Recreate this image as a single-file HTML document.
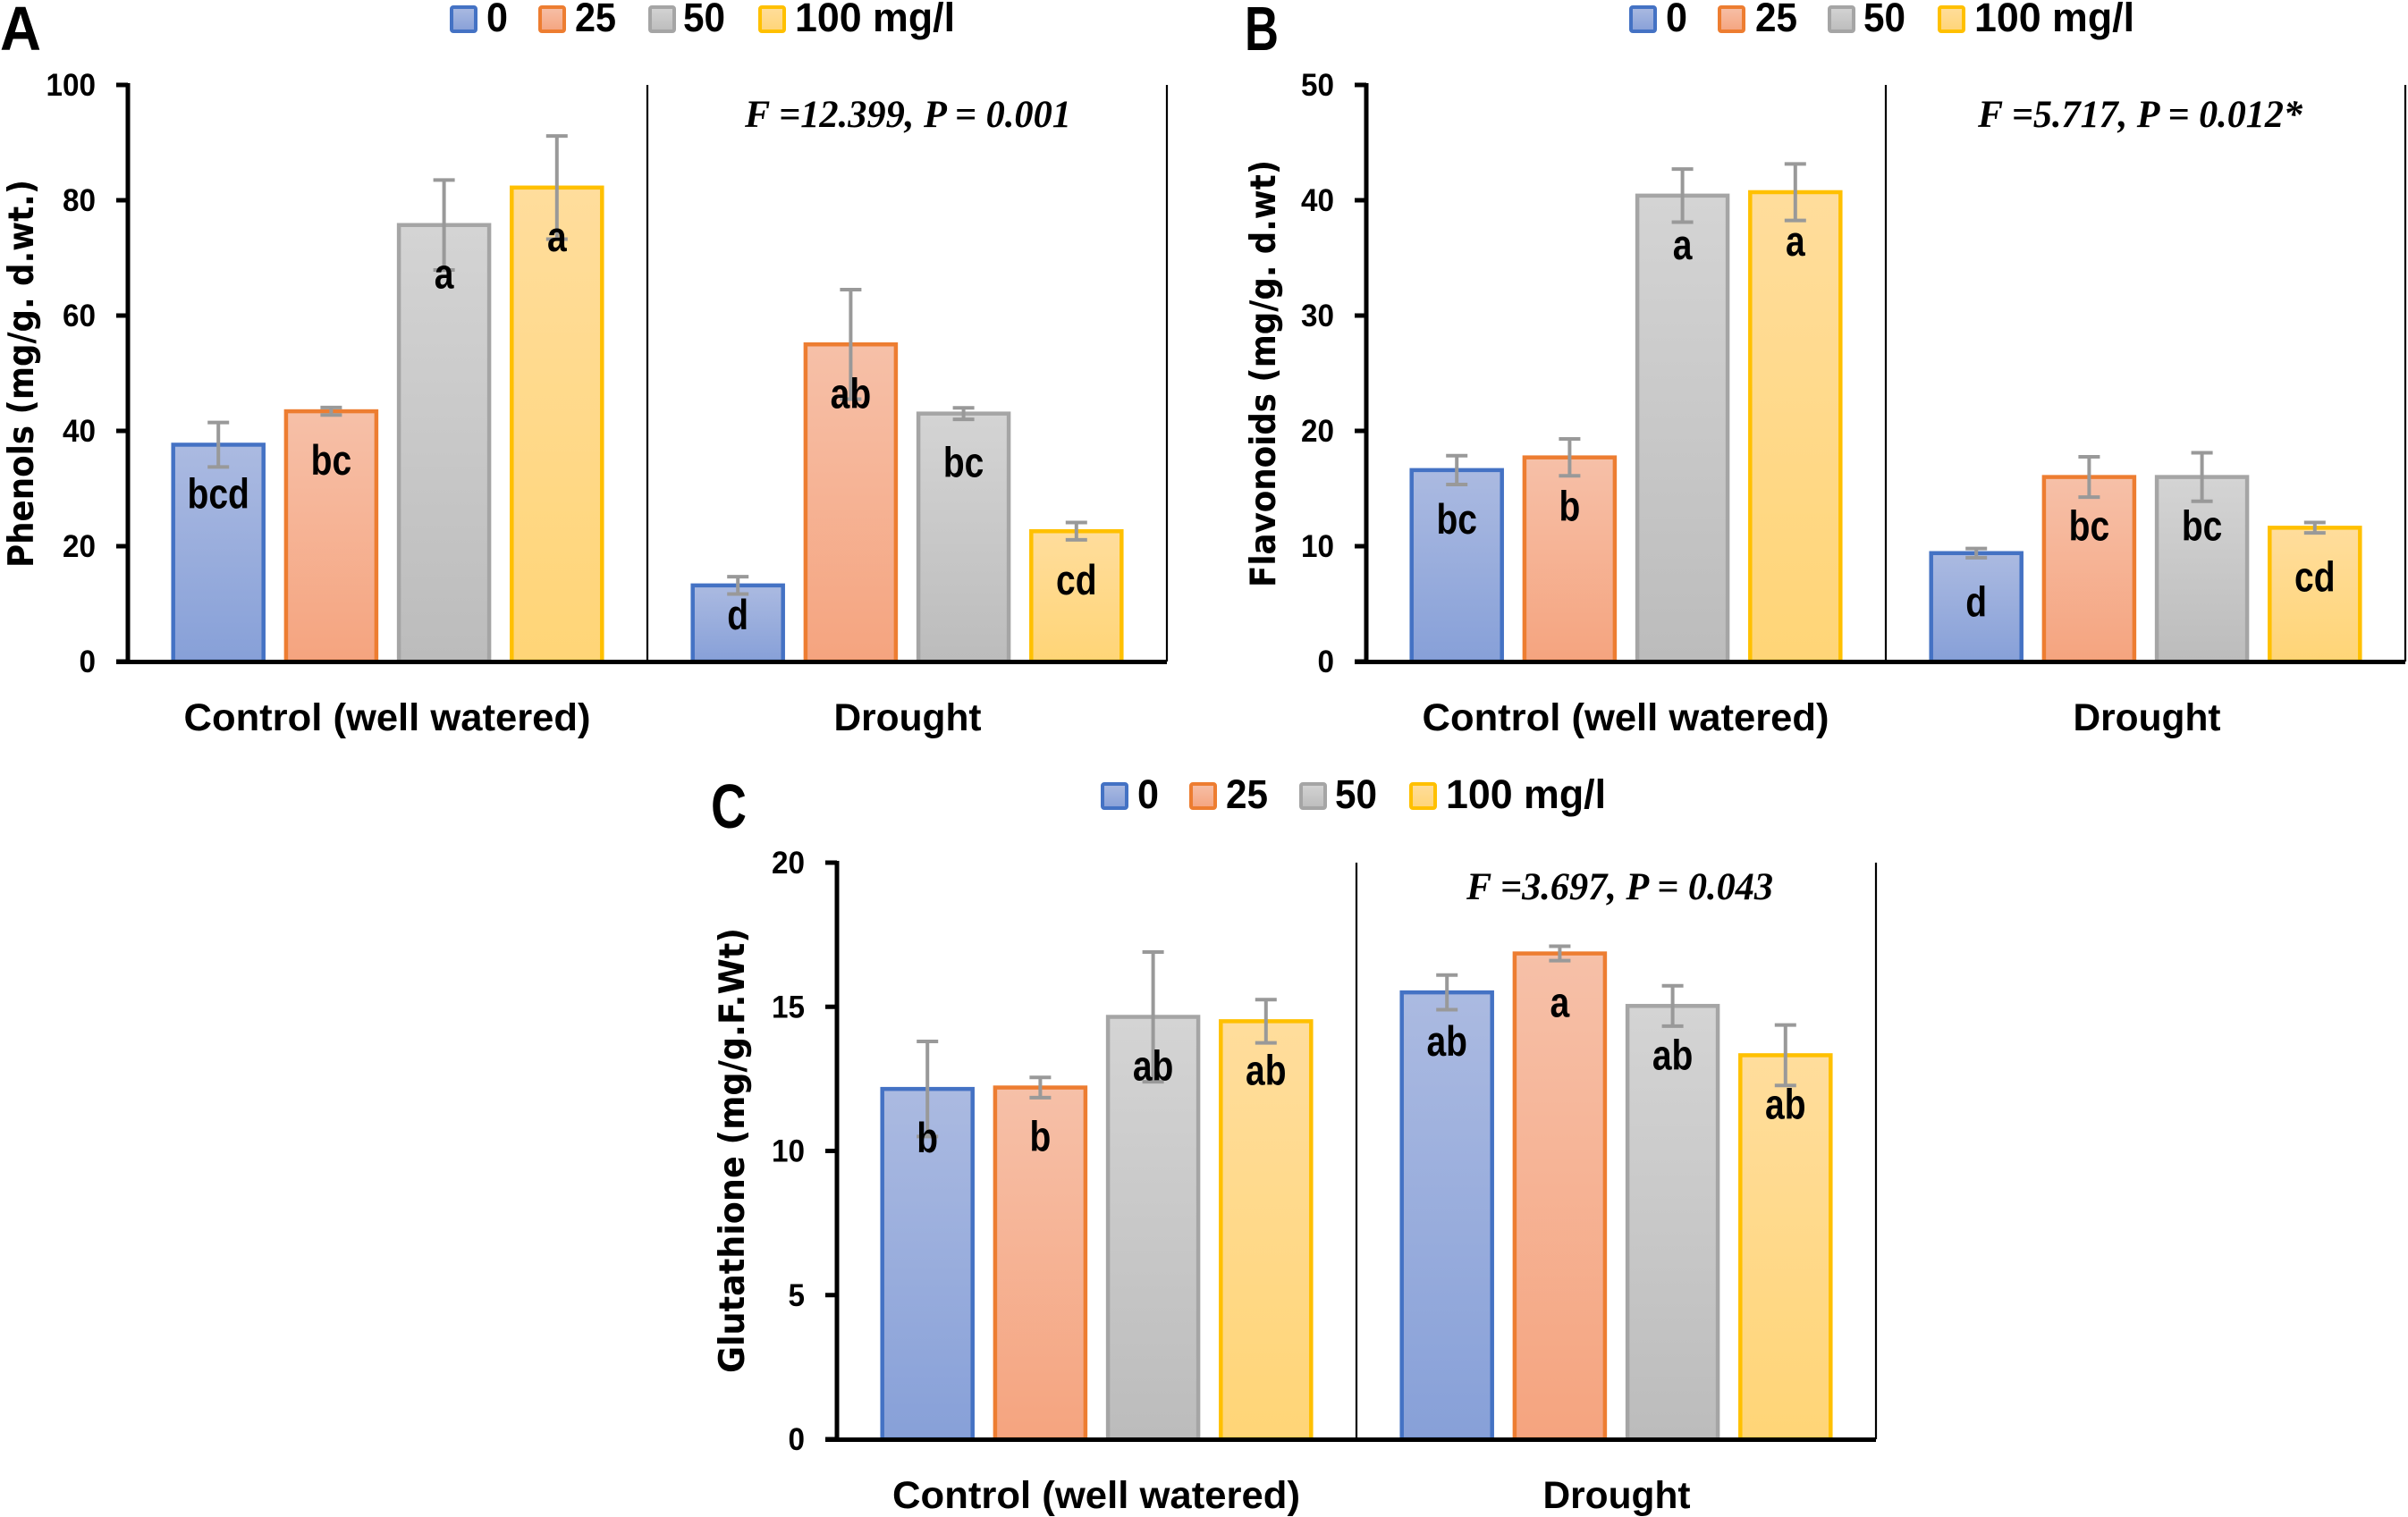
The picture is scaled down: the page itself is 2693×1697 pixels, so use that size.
<!DOCTYPE html>
<html lang="en">
<head>
<meta charset="utf-8">
<title>Phenols, flavonoids and glutathione bar charts</title>
<style>
html,body{margin:0;padding:0;background:#fff;}
svg{display:block;}
text{font-family:"Liberation Sans",sans-serif;font-weight:700;fill:#000;}
.ytitle{font-family:"DejaVu Sans",sans-serif;font-size:39px;}
.stat{font-family:"Liberation Serif",serif;font-style:italic;font-size:43px;}
.cat{font-size:43px;text-anchor:middle;}
.leg{font-size:45px;}
.letter{font-size:70px;}
</style>
</head>
<body>
<svg id="figure" xmlns="http://www.w3.org/2000/svg" width="2693" height="1697" viewBox="0 0 2693 1697">
<defs>
<linearGradient id="grad0" x1="0" y1="0" x2="0" y2="1"><stop offset="0" stop-color="#abbae1"/><stop offset="1" stop-color="#87a0d8"/></linearGradient>
<linearGradient id="grad1" x1="0" y1="0" x2="0" y2="1"><stop offset="0" stop-color="#f6c0a8"/><stop offset="1" stop-color="#f5a47f"/></linearGradient>
<linearGradient id="grad2" x1="0" y1="0" x2="0" y2="1"><stop offset="0" stop-color="#d4d4d4"/><stop offset="1" stop-color="#bcbcbc"/></linearGradient>
<linearGradient id="grad3" x1="0" y1="0" x2="0" y2="1"><stop offset="0" stop-color="#ffdd9c"/><stop offset="1" stop-color="#ffd577"/></linearGradient>
</defs>

<g id="panel-a">
  <text class="letter" x="0" y="56" textLength="46" lengthAdjust="spacingAndGlyphs">A</text>
  <g transform="translate(503,6)">
    <rect x="2" y="2" width="27" height="27" rx="2" fill="url(#grad0)" stroke="#4472c4" stroke-width="4"/>
    <text class="leg" x="41" y="29" textLength="24" lengthAdjust="spacingAndGlyphs">0</text>
    <rect x="101" y="2" width="27" height="27" rx="2" fill="url(#grad1)" stroke="#ed7d31" stroke-width="4"/>
    <text class="leg" x="140" y="29" textLength="46" lengthAdjust="spacingAndGlyphs">25</text>
    <rect x="224" y="2" width="27" height="27" rx="2" fill="url(#grad2)" stroke="#a5a5a5" stroke-width="4"/>
    <text class="leg" x="261" y="29" textLength="47" lengthAdjust="spacingAndGlyphs">50</text>
    <rect x="347" y="2" width="27" height="27" rx="2" fill="url(#grad3)" stroke="#ffc000" stroke-width="4"/>
    <text class="leg" x="386" y="29" textLength="179" lengthAdjust="spacingAndGlyphs">100 mg/l</text>
  </g>
  <text class="ytitle" transform="translate(37,635) rotate(-90)" textLength="434" lengthAdjust="spacingAndGlyphs">Phenols (mg/g. d.wt.)</text>
  <text class="stat" x="833" y="142" textLength="365" lengthAdjust="spacingAndGlyphs">F =12.399, P = 0.001</text>
  <text class="cat" x="433" y="817" textLength="455" lengthAdjust="spacingAndGlyphs">Control (well watered)</text>
  <text class="cat" x="1015" y="817" textLength="165" lengthAdjust="spacingAndGlyphs">Drought</text>
</g>

<g id="panel-b">
  <text class="letter" x="1392" y="56" textLength="38" lengthAdjust="spacingAndGlyphs">B</text>
  <g transform="translate(1822,6)">
    <rect x="2" y="2" width="27" height="27" rx="2" fill="url(#grad0)" stroke="#4472c4" stroke-width="4"/>
    <text class="leg" x="41" y="29" textLength="24" lengthAdjust="spacingAndGlyphs">0</text>
    <rect x="101" y="2" width="27" height="27" rx="2" fill="url(#grad1)" stroke="#ed7d31" stroke-width="4"/>
    <text class="leg" x="141" y="29" textLength="47" lengthAdjust="spacingAndGlyphs">25</text>
    <rect x="224" y="2" width="27" height="27" rx="2" fill="url(#grad2)" stroke="#a5a5a5" stroke-width="4"/>
    <text class="leg" x="262" y="29" textLength="47" lengthAdjust="spacingAndGlyphs">50</text>
    <rect x="347" y="2" width="27" height="27" rx="2" fill="url(#grad3)" stroke="#ffc000" stroke-width="4"/>
    <text class="leg" x="386" y="29" textLength="179" lengthAdjust="spacingAndGlyphs">100 mg/l</text>
  </g>
  <text class="ytitle" transform="translate(1426,657) rotate(-90)" textLength="478" lengthAdjust="spacingAndGlyphs">Flavonoids (mg/g. d.wt)</text>
  <text class="stat" x="2212" y="142" textLength="363" lengthAdjust="spacingAndGlyphs">F =5.717, P = 0.012*</text>
  <text class="cat" x="1818" y="817" textLength="455" lengthAdjust="spacingAndGlyphs">Control (well watered)</text>
  <text class="cat" x="2401" y="817" textLength="165" lengthAdjust="spacingAndGlyphs">Drought</text>
</g>

<g id="panel-c">
  <text class="letter" x="795" y="926" textLength="40" lengthAdjust="spacingAndGlyphs">C</text>
  <g transform="translate(1231,875)">
    <rect x="2" y="2" width="27" height="27" rx="2" fill="url(#grad0)" stroke="#4472c4" stroke-width="4"/>
    <text class="leg" x="41" y="29" textLength="24" lengthAdjust="spacingAndGlyphs">0</text>
    <rect x="101" y="2" width="27" height="27" rx="2" fill="url(#grad1)" stroke="#ed7d31" stroke-width="4"/>
    <text class="leg" x="140" y="29" textLength="47" lengthAdjust="spacingAndGlyphs">25</text>
    <rect x="224" y="2" width="27" height="27" rx="2" fill="url(#grad2)" stroke="#a5a5a5" stroke-width="4"/>
    <text class="leg" x="262" y="29" textLength="47" lengthAdjust="spacingAndGlyphs">50</text>
    <rect x="347" y="2" width="27" height="27" rx="2" fill="url(#grad3)" stroke="#ffc000" stroke-width="4"/>
    <text class="leg" x="386" y="29" textLength="179" lengthAdjust="spacingAndGlyphs">100 mg/l</text>
  </g>
  <text class="ytitle" transform="translate(832,1536) rotate(-90)" textLength="498" lengthAdjust="spacingAndGlyphs">Glutathione (mg/g.F.Wt)</text>
  <text class="stat" x="1640" y="1006" textLength="343" lengthAdjust="spacingAndGlyphs">F =3.697, P = 0.043</text>
  <text class="cat" x="1226" y="1687" textLength="456" lengthAdjust="spacingAndGlyphs">Control (well watered)</text>
  <text class="cat" x="1808" y="1687" textLength="165" lengthAdjust="spacingAndGlyphs">Drought</text>
</g>
</svg>

<script>
// Panel A: phenols
const phenolValues = [37.6, 43.4, 75.7, 82.2, 13.2, 55, 43, 22.6];
const phenolErrors = [3.85, 0.65, 7.8, 8.95, 1.5, 9.5, 1, 1.5];
const phenolLetters = ['bcd', 'bc', 'a', 'a', 'd', 'ab', 'bc', 'cd'];
const phenolTicks = [0, 20, 40, 60, 80, 100];
// Panel B: flavonoids
const flavonoidValues = [16.6, 17.7, 40.4, 40.7, 9.4, 16, 16, 11.6];
const flavonoidErrors = [1.25, 1.6, 2.3, 2.45, 0.4, 1.75, 2.1, 0.45];
const flavonoidLetters = ['bc', 'b', 'a', 'a', 'd', 'bc', 'bc', 'cd'];
const flavonoidTicks = [0, 10, 20, 30, 40, 50];
// Panel C: glutathione
const glutathioneValues = [12.15, 12.2, 14.65, 14.5, 15.5, 16.85, 15.03, 13.32];
const glutathioneErrors = [1.65, 0.35, 2.25, 0.75, 0.6, 0.25, 0.7, 1.05];
const glutathioneLetters = ['b', 'b', 'ab', 'ab', 'ab', 'a', 'ab', 'ab'];
const glutathioneTicks = [0, 5, 10, 15, 20];
// Bar series order inside each group
const seriesStrokes = ['#4472c4', '#ed7d31', '#a5a5a5', '#ffc000'];

const NS = 'http://www.w3.org/2000/svg';

function add(parent, tag, attrs, text) {
  const el = document.createElementNS(NS, tag);
  for (const k in attrs) el.setAttribute(k, attrs[k]);
  if (text !== undefined) el.textContent = text;
  parent.appendChild(el);
  return el;
}

function squeeze(t, factor) {
  t.setAttribute('textLength', (t.getComputedTextLength() * factor).toFixed(1));
  t.setAttribute('lengthAdjust', 'spacingAndGlyphs');
}

function drawPanel(id, x0, top, bottom, values, errors, letters, ticks) {
  const root = document.getElementById(id);
  const g = add(root, 'g', {});
  
  
  const yMax = ticks[ticks.length - 1];
  const y = v => bottom - (v / yMax) * (bottom - top);
  const catW = 581;
  const pitch = 126.2;
  const barX = i => {
    const group = Math.floor(i / 4);
    const slot = i % 4;
    return x0 + catW * group + catW / 2 + (slot - 1.5) * pitch;
  };

  values.forEach((v, i) => {
    const s = i % 4;
    const bar = add(g, 'rect', {
      x: barX(i) - 50.5, y: y(v), width: 101, height: bottom - y(v),
      fill: 'url(#grad' + s + ')', stroke: seriesStrokes[s], 'stroke-width': 4.5
    });
    
    
  });

  values.forEach((v, i) => {
    const cx = barX(i);
    const hi = y(v + errors[i]);
    const lo = y(v - errors[i]);
    const stem = add(g, 'line', {x1: cx, x2: cx, y1: hi, y2: lo, stroke: '#999', 'stroke-width': 4});
    
    
    const capTop = add(g, 'line', {x1: cx - 12, x2: cx + 12, y1: hi, y2: hi, stroke: '#999', 'stroke-width': 4});
    
    
    const capLow = add(g, 'line', {x1: cx - 12, x2: cx + 12, y1: lo, y2: lo, stroke: '#999', 'stroke-width': 4});
    
    
  });

  values.forEach((v, i) => {
    const short = bottom - y(v) < 100;
    const t = add(g, 'text', {
      x: barX(i), y: y(v) + (short ? 34 : 56) + 15,
      'text-anchor': 'middle', 'font-size': 47
    }, letters[i]);
    
    
    squeeze(t, 0.83);
  });

  const yAxis = add(g, 'line', {x1: x0, x2: x0, y1: top - 2, y2: bottom + 2, stroke: '#000', 'stroke-width': 5});
  
  
  const xAxis = add(g, 'line', {x1: x0 - 13, x2: x0 + 2 * catW, y1: bottom + 0.5, y2: bottom + 0.5, stroke: '#000', 'stroke-width': 5});
  
  
  const divider = add(g, 'line', {x1: x0 + catW, x2: x0 + catW, y1: top, y2: bottom, stroke: '#000', 'stroke-width': 2.2});
  
  
  const edge = add(g, 'line', {x1: x0 + 2 * catW, x2: x0 + 2 * catW, y1: top, y2: bottom, stroke: '#000', 'stroke-width': 2.2});
  
  

  ticks.forEach(tv => {
    const tk = add(g, 'line', {x1: x0 - 13, x2: x0, y1: y(tv), y2: y(tv), stroke: '#000', 'stroke-width': 5});
    
    
    const lb = add(g, 'text', {x: x0 - 36, y: y(tv) + 12, 'text-anchor': 'end', 'font-size': 35}, String(tv));
    
    
    squeeze(lb, 0.95);
  });
}

drawPanel('panel-a', 143, 95, 740, phenolValues, phenolErrors, phenolLetters, phenolTicks);
drawPanel('panel-b', 1528, 95, 740, flavonoidValues, flavonoidErrors, flavonoidLetters, flavonoidTicks);
drawPanel('panel-c', 936, 965, 1610, glutathioneValues, glutathioneErrors, glutathioneLetters, glutathioneTicks);
</script>
</body>
</html>
